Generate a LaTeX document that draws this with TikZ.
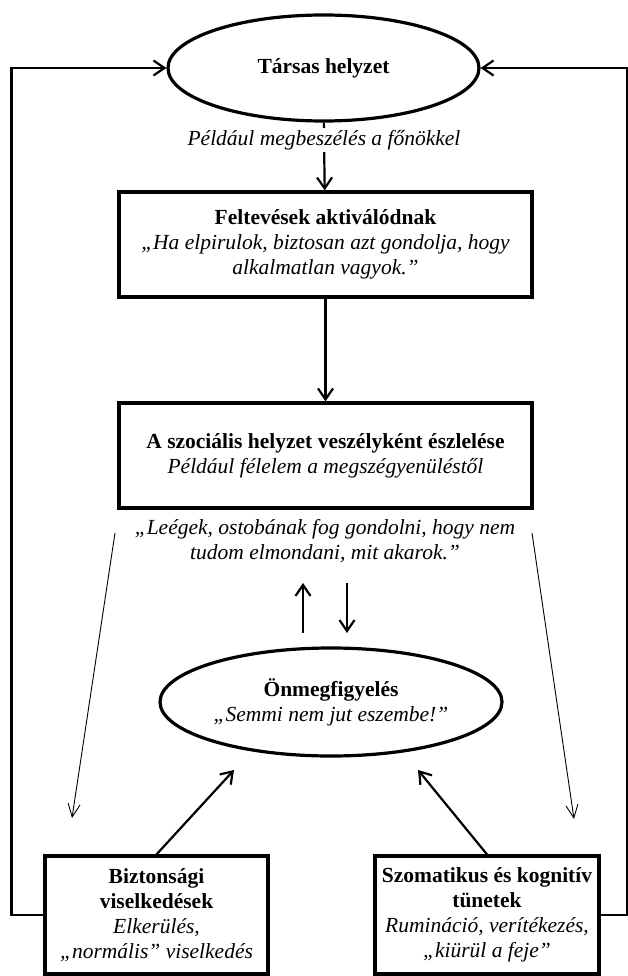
\documentclass[tikz,border=0pt]{standalone}
\usepackage{fontspec}
\setmainfont{Liberation Serif}
\usepackage{tikz}
\usetikzlibrary{shapes,arrows.meta}
\tikzset{
  ovalT/.style={ draw, ellipse, line width=3.2pt, inner sep=0pt, align=center, font=\fontsize{21.5}{25}\selectfont }
}
\tikzset{
  sqbox/.style={ draw, rectangle, line width=3.2pt, inner sep=0pt, align=center, font=\fontsize{21.5}{25}\selectfont }
}
\tikzset{
  capt/.style={ align=center, inner sep=2pt, font=\fontsize{21.5}{25}\selectfont\itshape }
}
\tikzset{
  thinarr/.style={ line width=0.9pt, -{Straight Barb[length=13pt, width=12pt]} }
}

\begin{document}
\begin{tikzpicture}[x=1pt, y=-1pt, >={Straight Barb[length=11pt, width=15pt]}]
      \useasboundingbox (0,0) rectangle (627,976);

      \node[ovalT, minimum width=311, minimum height=106] (sit) at (323.5, 68) {\textbf{Társas helyzet}};
      \node[capt] (ex) at (324, 140) {Például megbeszélés a főnökkel};

      \node[sqbox, minimum width=413, minimum height=105] (assume) at (325.5, 244.5)
        {\textbf{Feltevések aktiválódnak}\\ \textit{„Ha elpirulok, biztosan azt gondolja, hogy}\\ \textit{alkalmatlan vagyok.”}};

      \node[sqbox, minimum width=413, minimum height=105] (threat) at (325.5, 455.5)
        {\textbf{A szociális helyzet veszélyként észlelése}\\ \textit{Például félelem a megszégyenüléstől}};
      \node[capt] (thought) at (325, 541) {„Leégek, ostobának fog gondolni, hogy nem\\ tudom elmondani, mit akarok.”};

      \node[ovalT, minimum width=342, minimum height=108] (self) at (331, 702)
        {\textbf{Önmegfigyelés}\\ \textit{„Semmi nem jut eszembe!”}};

      \node[sqbox, minimum width=223, minimum height=118] (safety) at (156.5, 915)
        {\textbf{Biztonsági}\\ \textbf{viselkedések}\\ \textit{Elkerülés,}\\ \textit{„normális” viselkedés}};
      \node[sqbox, minimum width=224, minimum height=118] (symptoms) at (487, 915)
        {\textbf{Szomatikus és kognitív}\\ \textbf{tünetek}\\ \textit{Rumináció, verítékezés,}\\ \textit{„kiürül a feje”}};

      \coordinate (upA) at (303, 633);
      \coordinate (upB) at (303, 583);
      \coordinate (dnA) at (347, 583);
      \coordinate (dnB) at (347, 633);
      \coordinate (tl1) at (115, 533);
      \coordinate (tl2) at (72, 818);
      \coordinate (tr1) at (532, 533);
      \coordinate (tr2) at (574, 819);
      \coordinate (sfTip) at (234, 770);
      \coordinate (smTip) at (418, 770);

      \begin{scope}[line width=2.2pt]
        \draw (sit) -- (ex);
        \draw[->] (ex) -- (assume);
        \draw[->] (assume) -- (threat);

        \draw[->] (upA) -- (upB);
        \draw[->] (dnA) -- (dnB);

        \draw[->] (safety.north) -- (sfTip);
        \draw[->] (symptoms.north) -- (smTip);

        \draw[->] (safety.west) -- ++(-32, 0) |- (sit.west);
        \draw[->] (symptoms.east) -- ++(26, 0) |- (sit.east);
      \end{scope}

      \draw[thinarr] (tl1) -- (tl2);
      \draw[thinarr] (tr1) -- (tr2);
    \end{tikzpicture}
\end{document}
